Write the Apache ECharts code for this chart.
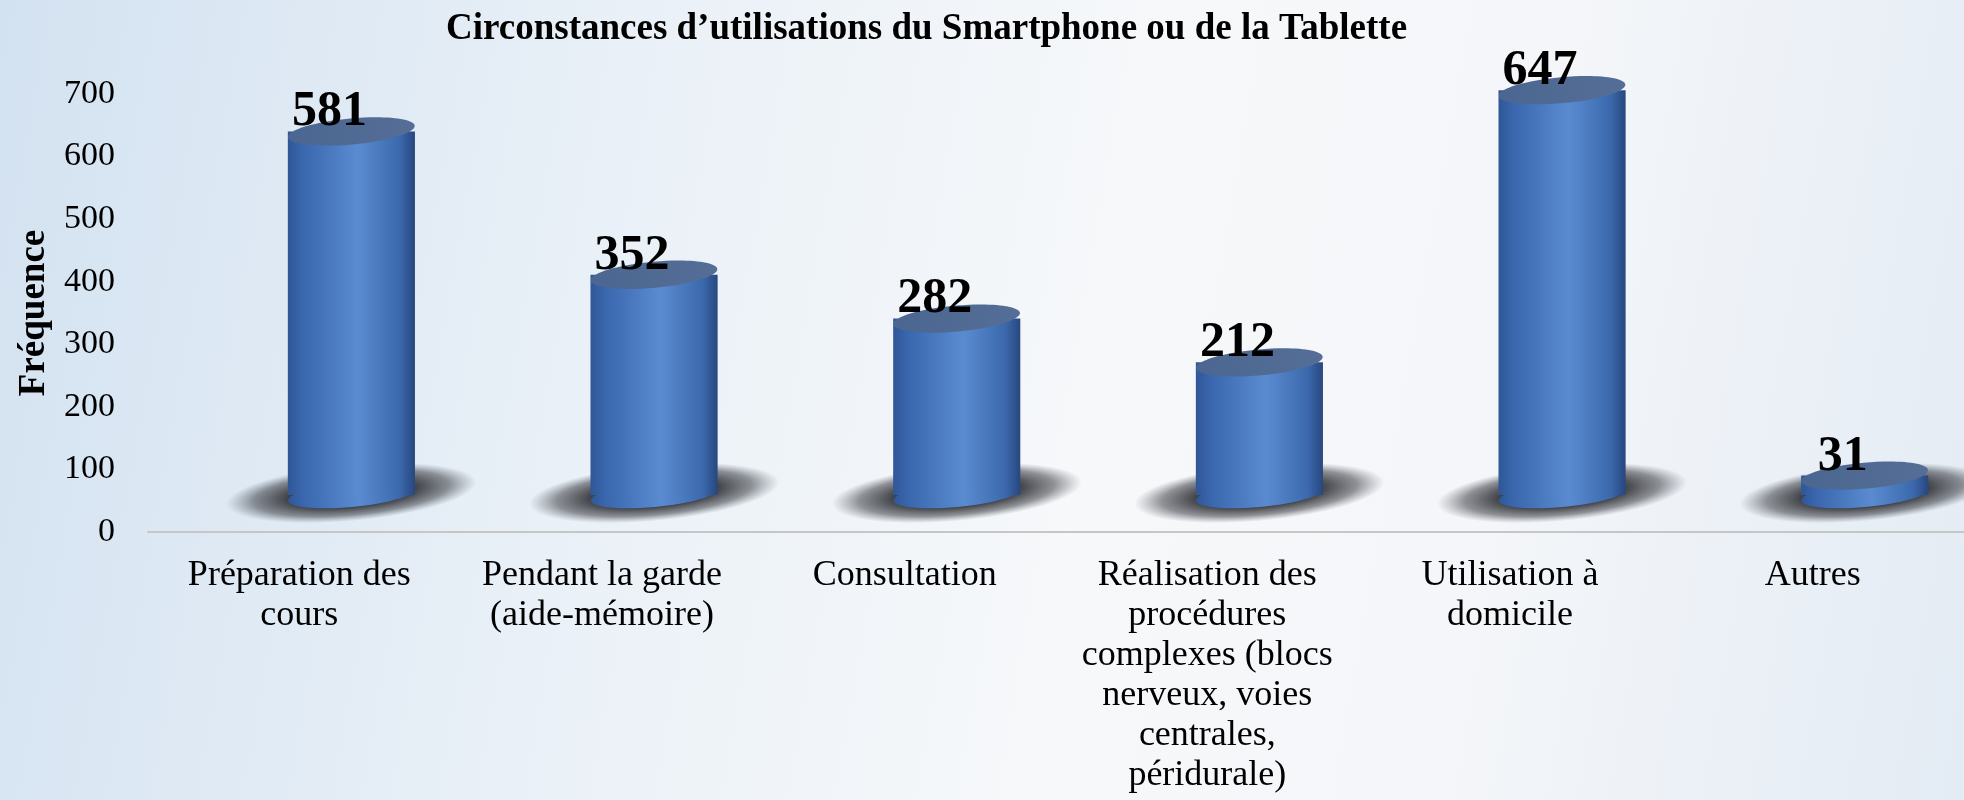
<!DOCTYPE html>
<html>
<head>
<meta charset="utf-8">
<script src="https://cdn.jsdelivr.net/npm/echarts@6/dist/echarts.min.js"></script>
<style>
html, body { margin: 0; padding: 0; }
body {
    width: 1964px; height: 800px; overflow: hidden;
    background: linear-gradient(100deg, #d3e2f1 0%, #e9f0f7 30%, #f6f8fa 55%, #f4f6f9 75%, #e3ebf4 100%);
}
#main { width: 1964px; height: 800px; }
</style>
</head>
<body>
<div id="main"></div>
<script>
// categories (already wrapped like the picture)
var categories = [
    'Préparation des\ncours',
    'Pendant la garde\n(aide-mémoire)',
    'Consultation',
    'Réalisation des\nprocédures\ncomplexes (blocs\nnerveux, voies\ncentrales,\npéridurale)',
    'Utilisation à\ndomicile',
    'Autres'
];
var frequencies = [581, 352, 282, 212, 647, 31];
var yTicks = [0, 100, 200, 300, 400, 500, 600, 700];

var serif = '"Liberation Serif", "Times New Roman", serif';

function renderCylinder(params, api) {
    var idx = api.value(0);
    var val = api.value(1);
    var base = api.coord([idx, 0]);
    var top = api.coord([idx, val]);
    var band = api.size([1, 0])[0];
    var w = band * 0.42;
    var cx = base[0] + band * 0.172;
    var lift = 37; // 3d floor sits a bit above the axis line
    var by = base[1] - lift;
    var ty = top[1] - lift;
    var ry = 12;
    var tilt = 0.09;

    var bodyColor = new echarts.graphic.LinearGradient(0, 0, 1, 0, [
        { offset: 0, color: '#2f5797' },
        { offset: 0.12, color: '#3a67ae' },
        { offset: 0.55, color: '#5a8bd1' },
        { offset: 0.88, color: '#3c69ad' },
        { offset: 1, color: '#27477e' }
    ]);
    var topColor = new echarts.graphic.LinearGradient(0, 0, 1, 0, [
        { offset: 0, color: '#4b6690' },
        { offset: 1, color: '#546e97' }
    ]);
    var shadowColor = new echarts.graphic.RadialGradient(0.5, 0.5, 0.5, [
        { offset: 0, color: 'rgba(40,42,46,0.95)' },
        { offset: 0.5, color: 'rgba(44,46,50,0.9)' },
        { offset: 0.78, color: 'rgba(60,62,68,0.55)' },
        { offset: 1, color: 'rgba(90,95,105,0)' }
    ]);
    var sry = 28;
    var srx = w / 2 + 62;

    return {
        type: 'group',
        children: [
            {
                type: 'circle',
                x: cx, y: by - 2,
                scaleX: srx / sry,
                rotation: tilt,
                shape: { cx: 0, cy: 0, r: sry },
                style: { fill: shadowColor }
            },
            {
                type: 'ellipse',
                x: cx, y: by, rotation: tilt,
                shape: { cx: 0, cy: 0, rx: w / 2, ry: ry },
                style: { fill: bodyColor }
            },
            {
                type: 'rect',
                shape: { x: cx - w / 2, y: ty, width: w, height: by - ty },
                style: { fill: bodyColor }
            },
            {
                type: 'ellipse',
                x: cx, y: ty, rotation: tilt,
                shape: { cx: 0, cy: 0, rx: w / 2, ry: ry + 1 },
                style: { fill: topColor }
            },
            {
                type: 'text',
                x: cx - 22,
                y: ty + 6,
                style: {
                    text: String(val),
                    fill: '#000',
                    font: 'bold 50px ' + serif,
                    align: 'center',
                    verticalAlign: 'bottom'
                }
            }
        ]
    };
}

var myChart = echarts.init(document.getElementById('main'));
var option = {
    backgroundColor: 'transparent',
    animation: false,
    title: {
        text: 'Circonstances d\u2019utilisations du Smartphone ou de la Tablette',
        left: 441,
        top: 6,
        textStyle: { fontFamily: serif, fontWeight: 'bold', fontSize: 37, color: '#000' }
    },
    grid: { left: 148, right: 0, top: 94, bottom: 268, outerBoundsMode: 'none', containLabel: false },
    xAxis: {
        type: 'category',
        data: categories,
        axisLine: { show: true, lineStyle: { color: '#c6c6c6', width: 2 } },
        axisTick: { show: false },
        axisLabel: {
            interval: 0,
            margin: 24,
            color: '#000',
            fontFamily: serif,
            fontSize: 36,
            lineHeight: 40
        }
    },
    yAxis: {
        type: 'value',
        min: 0,
        max: 700,
        interval: 100,
        name: 'Fréquence',
        nameLocation: 'middle',
        nameGap: 94,
        nameTextStyle: { fontFamily: serif, fontWeight: 'bold', fontSize: 37, color: '#000' },
        axisLine: { show: false },
        axisTick: { show: false },
        splitLine: { show: false },
        axisLabel: {
            margin: 33,
            color: '#000',
            fontFamily: serif,
            fontSize: 34,
            formatter: function (v) { return yTicks.indexOf(v) >= 0 ? String(v) : ''; }
        }
    },
    series: [{
        type: 'custom',
        renderItem: renderCylinder,
        data: frequencies.map(function (v, i) { return [i, v]; }),
        encode: { x: 0, y: 1 },
        clip: false
    }]
};
myChart.setOption(option);
</script>
</body>
</html>
